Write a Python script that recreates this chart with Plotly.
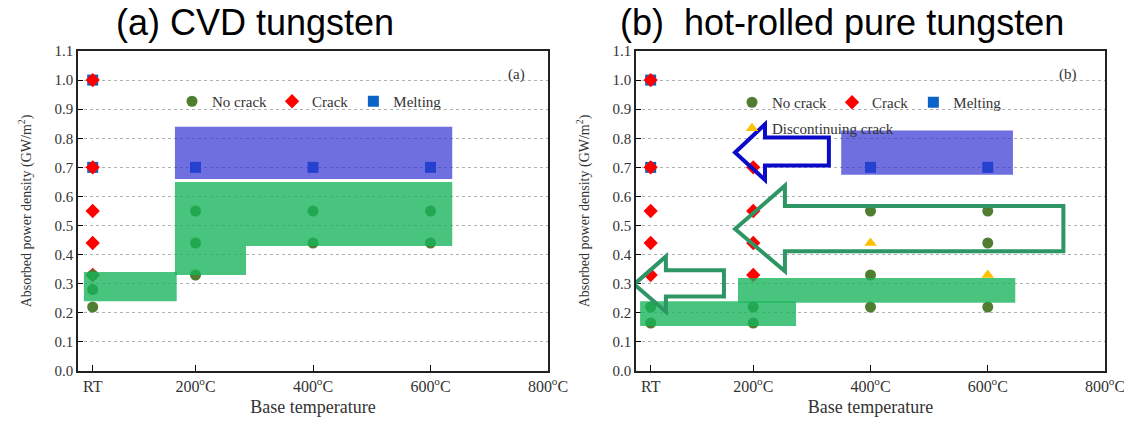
import plotly.graph_objects as go

# ---------------- data ----------------
temp_tickvals = [25, 200, 400, 600, 800]
temp_ticktext = ["RT", "200<sup>o</sup>C", "400<sup>o</sup>C", "600<sup>o</sup>C", "800<sup>o</sup>C"]
y_tickvals = [0.0, 0.1, 0.2, 0.3, 0.4, 0.5, 0.6, 0.7, 0.8, 0.9, 1.0, 1.1]

# (a) CVD tungsten
a_nocrack_x = [25, 25, 25, 200, 200, 200, 400, 400, 600, 600]
a_nocrack_y = [0.33, 0.28, 0.22, 0.55, 0.44, 0.33, 0.55, 0.44, 0.55, 0.44]
a_crack_x = [25, 25, 25, 25, 25]
a_crack_y = [1.0, 0.7, 0.55, 0.44, 0.33]
a_melt_x = [25, 25, 200, 400, 600]
a_melt_y = [1.0, 0.7, 0.7, 0.7, 0.7]

# (b) hot-rolled pure tungsten
b_nocrack_x = [25, 25, 200, 200, 400, 400, 400, 600, 600, 600]
b_nocrack_y = [0.22, 0.165, 0.22, 0.165, 0.55, 0.33, 0.22, 0.55, 0.44, 0.22]
b_crack_x = [25, 25, 25, 25, 25, 200, 200, 200, 200]
b_crack_y = [1.0, 0.7, 0.55, 0.44, 0.33, 0.7, 0.55, 0.44, 0.33]
b_melt_x = [25, 25, 400, 600]
b_melt_y = [1.0, 0.7, 0.7, 0.7]
b_disc_x = [400, 600]
b_disc_y = [0.44, 0.33]

# ---------------- styles ----------------
SERIF = "Liberation Serif, Times New Roman, serif"
C_NOCRACK = "#4f7e30"
C_CRACK = "#ff0000"
C_MELT = "#0a64c8"
C_DISC = "#ffc000"
GREEN_FILL = "rgba(20,180,90,0.78)"
BLUE_FILL = "rgba(50,50,210,0.70)"

fig = go.Figure()


def add_series(x, y, name, symbol, color, size, xa, ya, legend, rank):
    fig.add_trace(go.Scatter(
        x=x, y=y, mode="markers", name=name,
        marker=dict(symbol=symbol, color=color, size=size, line=dict(width=0)),
        xaxis=xa, yaxis=ya, legend=legend, legendrank=rank,
    ))


# draw order: melting, crack, no crack (on top)
add_series(a_melt_x, a_melt_y, "Melting", "square", C_MELT, 11, "x", "y", "legend", 3)
add_series(a_crack_x, a_crack_y, "Crack", "diamond", C_CRACK, 11, "x", "y", "legend", 2)
add_series(a_nocrack_x, a_nocrack_y, "No crack", "circle", C_NOCRACK, 11, "x", "y", "legend", 1)

add_series(b_melt_x, b_melt_y, "Melting", "square", C_MELT, 11, "x2", "y2", "legend2", 3)
add_series(b_crack_x, b_crack_y, "Crack", "diamond", C_CRACK, 11, "x2", "y2", "legend2", 2)
add_series(b_nocrack_x, b_nocrack_y, "No crack", "circle", C_NOCRACK, 11, "x2", "y2", "legend2", 1)
add_series(b_disc_x, b_disc_y, "Discontinuing crack", "triangle-up", C_DISC, 11, "x2", "y2", "legend3", 4)

# ---------------- shaded regions ----------------
shapes = []


def rect(xref, yref, x0, x1, y0, y1, fill):
    shapes.append(dict(type="rect", xref=xref, yref=yref, x0=x0, x1=x1, y0=y0, y1=y1,
                       fillcolor=fill, line=dict(width=0), layer="above"))


def poly(xref, yref, pts, fill=None, line_color=None, lw=0):
    d = "M " + " L ".join(f"{px},{py}" for px, py in pts) + " Z"
    s = dict(type="path", xref=xref, yref=yref, path=d, layer="above")
    s["fillcolor"] = fill if fill else "rgba(0,0,0,0)"
    s["line"] = dict(width=lw, color=line_color or "rgba(0,0,0,0)")
    shapes.append(s)


# panel (a)
rect("x", "y", 10, 168, 0.24, 0.34, GREEN_FILL)
poly("x", "y", [(165, 0.33), (165, 0.65), (637, 0.65), (637, 0.43), (286, 0.43), (286, 0.33)], fill=GREEN_FILL)
rect("x", "y", 165, 637, 0.66, 0.84, BLUE_FILL)

# panel (b)
rect("x2", "y2", 350, 643, 0.675, 0.827, BLUE_FILL)
rect("x2", "y2", 174, 647, 0.235, 0.32, GREEN_FILL)
rect("x2", "y2", 7, 273, 0.155, 0.24, GREEN_FILL)

# arrows (outlined) in panel (b)
ARROW_BLUE = "#0a0ac8"
ARROW_GREEN = "#2e9664"
poly("x2", "y2", [(169, 0.751), (220, 0.848), (220, 0.803), (329, 0.803), (329, 0.706), (220, 0.706), (220, 0.657)],
     line_color=ARROW_BLUE, lw=4)
poly("x2", "y2", [(169, 0.488), (254, 0.637), (254, 0.567), (729, 0.567), (729, 0.412), (254, 0.412), (254, 0.343)],
     line_color=ARROW_GREEN, lw=4)
poly("x2", "y2", [(-3, 0.298), (51, 0.394), (51, 0.346), (150, 0.346), (150, 0.256), (51, 0.256), (51, 0.204)],
     line_color=ARROW_GREEN, lw=4)

# ---------------- axes ----------------
xcommon = dict(range=[0, 800], tickvals=temp_tickvals, ticktext=temp_ticktext,
               ticks="inside", ticklen=6, tickcolor="black", showgrid=False,
               showline=True, linecolor="#222", linewidth=1.5, mirror=True,
               tickfont=dict(family=SERIF, size=16, color="#333"), ticklabeloverflow="allow",
               title=dict(text="Base temperature", font=dict(family=SERIF, size=18, color="#333"), standoff=6),
               zeroline=False, fixedrange=True, automargin=False)
ycommon = dict(range=[0, 1.1], tickvals=y_tickvals, tickformat=".1f",
               ticks="inside", ticklen=5, tickcolor="black",
               showgrid=True, gridcolor="#b0b0b0", griddash="3px,3px", gridwidth=1,
               showline=True, linecolor="#222", linewidth=1.5, mirror=True,
               tickfont=dict(family=SERIF, size=15, color="#333"),
               title=dict(text="Absorbed power density (GW/m<sup>2</sup>)",
                          font=dict(family=SERIF, size=14, color="#333"), standoff=20),
               zeroline=False, fixedrange=True, automargin=False)

legend_style = dict(orientation="h", xanchor="left", yanchor="top", bgcolor="rgba(0,0,0,0)",
                    font=dict(family=SERIF, size=15, color="#333"), traceorder="normal",
                    itemclick=False, itemdoubleclick=False)

fig.update_layout(
    width=1124, height=421,
    margin=dict(l=0, r=0, t=51, b=50, autoexpand=False),
    paper_bgcolor="white", plot_bgcolor="white",
    xaxis=dict(domain=[78 / 1124, 548 / 1124], anchor="y", **xcommon),
    yaxis=dict(domain=[0, 1], anchor="x", **ycommon),
    xaxis2=dict(domain=[636 / 1124, 1105 / 1124], anchor="y2", **xcommon),
    yaxis2=dict(domain=[0, 1], anchor="x2", **ycommon),
    shapes=shapes,
    legend=dict(x=172 / 1124, y=(371 - 85) / 320, **legend_style),
    legend2=dict(x=732 / 1124, y=(371 - 86) / 320, **legend_style),
    legend3=dict(x=732 / 1124, y=(371 - 112) / 320, **legend_style),
    showlegend=True,
    annotations=[
        dict(text="(a) CVD tungsten", xref="paper", yref="paper", x=255 / 1124, y=(371 - 22) / 320,
             xanchor="center", yanchor="middle", showarrow=False,
             font=dict(family="Liberation Sans Narrow, Arial Narrow, Liberation Sans, Arial", size=36, color="black")),
        dict(text="(b)\u00a0\u00a0hot-rolled pure tungsten", xref="paper", yref="paper", x=842 / 1124,
             y=(371 - 22) / 320, xanchor="center", yanchor="middle", showarrow=False,
             font=dict(family="Liberation Sans Narrow, Arial Narrow, Liberation Sans, Arial", size=36, color="black")),
        dict(text="(a)", xref="paper", yref="paper", x=516 / 1124, y=(371 - 74) / 320,
             xanchor="center", yanchor="middle", showarrow=False,
             font=dict(family=SERIF, size=15, color="#333")),
        dict(text="(b)", xref="paper", yref="paper", x=1068 / 1124, y=(371 - 75) / 320,
             xanchor="center", yanchor="middle", showarrow=False,
             font=dict(family=SERIF, size=15, color="#333")),
    ],
)

fig.write_html("out.html")
